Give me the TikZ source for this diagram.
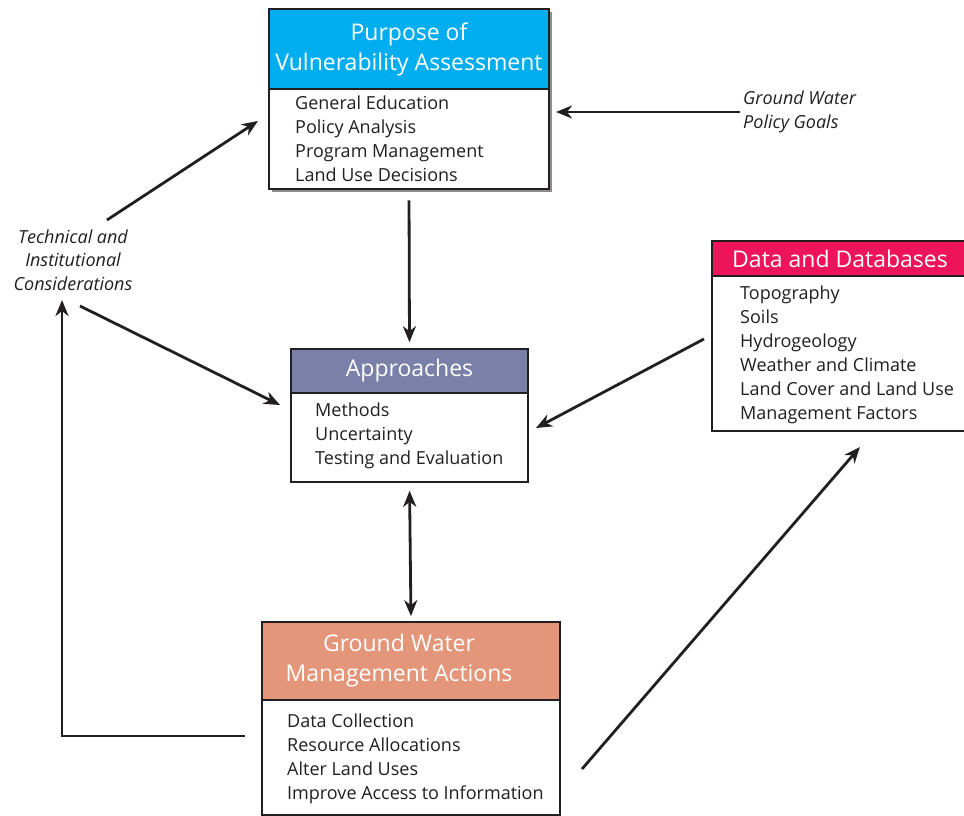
\documentclass[tikz,border=0pt]{standalone}
\usepackage{fontspec}
\setmainfont{Open Sans}
\usetikzlibrary{arrows.meta}
\definecolor{purposecol}{HTML}{00AEEF}
\definecolor{approachcol}{HTML}{7B80A8}
\definecolor{datacol}{HTML}{ED145B}
\definecolor{actioncol}{HTML}{E4967A}
\definecolor{inkcol}{HTML}{231F20}
\begin{document}
\begin{tikzpicture}[x=1pt,y=-1pt,
  box/.style={draw=inkcol,line width=1.6pt,fill=white,inner sep=0pt},
  head/.style={draw=inkcol,line width=1.6pt,inner sep=0pt,text=white,align=center,
    font=\fontsize{23}{30}\selectfont},
  items/.style={inner sep=0pt,anchor=west,align=left,text=inkcol,
    font=\fontsize{18}{24}\selectfont},
  remark/.style={inner sep=0pt,text=inkcol,font=\fontsize{18}{23.5}\selectfont\itshape},
  conn/.style={draw=inkcol,line width=2.8pt,-{Stealth[length=16pt,width=13pt,inset=5pt]}},
  twoway/.style={draw=inkcol,line width=2.8pt,{Stealth[length=16pt,width=13pt,inset=5pt]}-{Stealth[length=16pt,width=13pt,inset=5pt]}}]
\useasboundingbox[fill=white] (0,0) rectangle (964,816);

% purpose of vulnerability assessment
\fill[black!45] (272,12) rectangle (552,192);
\node[box,line width=2.8pt,minimum width=280pt,minimum height=180pt] (purpose) at (409,99) {};
\node[head,fill=purposecol,minimum width=280pt,minimum height=80pt,anchor=north,line width=2.8pt] (purposehead) at (purpose.north) {Purpose of\\Vulnerability Assessment};
\node[items] (purposelist) at (295,139) {General Education\\Policy Analysis\\Program Management\\Land Use Decisions};

% approaches
\node[box,minimum width=237pt,minimum height=133pt] (approach) at (409.5,415.5) {};
\node[head,fill=approachcol,minimum width=237pt,minimum height=44pt,anchor=north] (approachhead) at (approach.north) {Approaches};
\node[items] (approachlist) at (315,436) {Methods\\Uncertainty\\Testing and Evaluation};

% data and databases
\node[box,minimum width=256pt,minimum height=190pt] (data) at (840,336) {};
\node[head,fill=datacol,minimum width=256pt,minimum height=35pt,anchor=north,
  font=\fontsize{23}{28}\selectfont] (datahead) at (data.north) {Data and Databases};
\node[items] (datalist) at (740,355) {Topography\\Soils\\Hydrogeology\\Weather and Climate\\Land Cover and Land Use\\Management Factors};

% ground water management actions
\node[box,minimum width=298pt,minimum height=193pt] (action) at (411,718.5) {};
\node[head,fill=actioncol,minimum width=298pt,minimum height=78pt,anchor=north] (actionhead) at (action.north) {\hspace*{-24pt}Ground Water\\\hspace*{-24pt}Management Actions};
\node[items] (actionlist) at (287,758.5) {Data Collection\\Resource Allocations\\Alter Land Uses\\Improve Access to Information};

% side remarks
\node[remark,anchor=west,align=left] (goals) at (743,112) {Ground Water\\Policy Goals};
\node[remark,align=center] (techinst) at (73,260) {Technical and\\Institutional\\Considerations};

% free ends
\coordinate (goalsend) at (740,112);
\coordinate (purposein) at (556,112);
\coordinate (techup) at (107,220);
\coordinate (purposeleft) at (258,121);
\coordinate (techdown) at (80,306);
\coordinate (approachleft) at (280,405);
\coordinate (dataout) at (704,339);
\coordinate (approachright) at (536,428);
\coordinate (actionleft) at (245,736);
\coordinate (loopcorner) at (62,736);
\coordinate (techbelow) at (62,300);
\coordinate (actionright) at (582,769);
\coordinate (datain) at (860,447);

\draw[conn] (goalsend) -- (purposein);
\draw[conn] (techup) -- (purposeleft);
\draw[conn] (techdown) -- (approachleft);
\draw[conn] (dataout) -- (approachright);
\draw[conn,shorten <=10pt,shorten >=6pt] (purpose.south) -- (approach.north);
\draw[twoway,shorten <=8pt,shorten >=5pt] (approach.south) -- (action.north);
\draw[conn] (actionleft) -- (loopcorner) -- (techbelow);
\draw[conn] (actionright) -- (datain);
\end{tikzpicture}
\end{document}
